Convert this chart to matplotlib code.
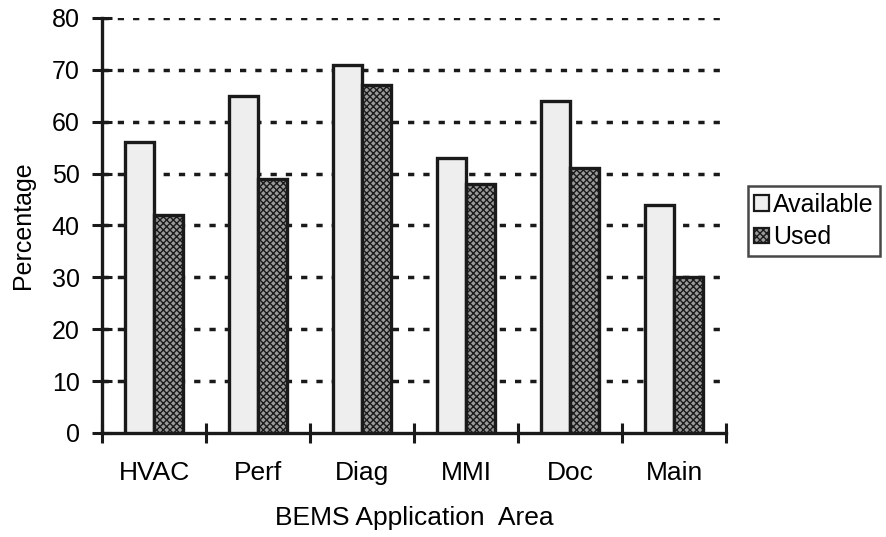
import matplotlib
matplotlib.use("Agg")
import matplotlib.pyplot as plt
import numpy as np

categories = ["HVAC", "Perf", "Diag", "MMI", "Doc", "Main"]
available = [56, 65, 71, 53, 64, 44]
used = [42, 49, 67, 48, 51, 30]
yticks = [0, 10, 20, 30, 40, 50, 60, 70, 80]

plt.rcParams['font.family'] = ['Liberation Sans', 'DejaVu Sans']
plt.rcParams['hatch.linewidth'] = 1.0

FS = 18
FSX = 19
fig = plt.figure(figsize=(8.87, 5.37), dpi=100)
ax = fig.add_axes([0.115, 0.1937, 0.7035, 0.7728])

x = np.arange(len(categories))
w = 0.275
ax.bar(x - w / 2, available, w, facecolor='#eeeeee', edgecolor='#1a1a1a',
       linewidth=2.4, label='Available', zorder=3)
ax.bar(x + w / 2, used, w, facecolor='#9a9a9a', edgecolor='#1a1a1a',
       hatch='xxxxx', linewidth=2.4, label='Used', zorder=3)

ax.set_xlim(-0.5, len(categories) - 0.5)
ax.set_ylim(0, 80)
ax.set_yticks(yticks)
ax.set_yticklabels([str(v) for v in yticks], fontsize=FS)
for v in yticks[1:]:
    ax.axhline(v, color='#1a1a1a', linewidth=2.5, linestyle=(0, (1.8, 2.6)), zorder=1)

ax.set_xticks(x)
ax.set_xticklabels(categories, fontsize=FSX)
ax.tick_params(axis='x', which='major', length=0, pad=20)
ax.set_xticks(np.arange(-0.5, len(categories)), minor=True)
ax.tick_params(axis='x', which='minor', length=14, width=2.2, direction='inout', color='#1a1a1a')
ax.tick_params(axis='y', length=14, width=2.2, direction='inout', color='#1a1a1a', pad=9)

for s in ['top', 'right']:
    ax.spines[s].set_visible(False)
for s in ['left', 'bottom']:
    ax.spines[s].set_linewidth(2.4)
    ax.spines[s].set_color('#1a1a1a')

ax.set_ylabel('Percentage', fontsize=FS, labelpad=12)
ax.set_xlabel('BEMS Application  Area', fontsize=FSX, labelpad=15)

leg = ax.legend(loc='center left', bbox_to_anchor=(1.035, 0.511), fontsize=FS,
                frameon=True, fancybox=False, edgecolor='#1a1a1a',
                handlelength=0.6, handleheight=0.6, handletextpad=0.15,
                borderpad=0.25, labelspacing=0.35, borderaxespad=0)
leg.get_frame().set_linewidth(1.8)
for h in leg.legend_handles:
    h.set_linewidth(1.6)

fig.savefig('out.png', dpi=100)
